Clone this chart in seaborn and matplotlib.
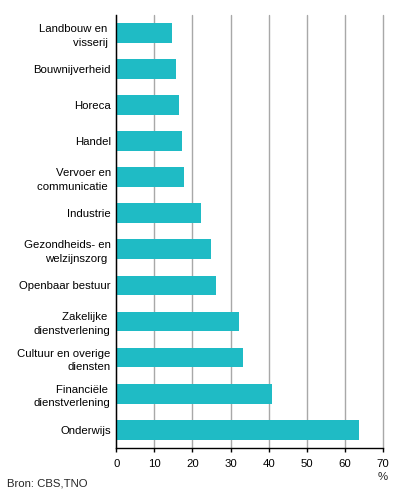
import matplotlib
matplotlib.use("Agg")
import matplotlib.pyplot as plt
import seaborn as sns
import pandas as pd

categories = [
    "Landbouw en \nvisserij ",
    "Bouwnijverheid",
    "Horeca",
    "Handel",
    "Vervoer en\ncommunicatie ",
    "Industrie",
    "Gezondheids- en\nwelzijnszorg ",
    "Openbaar bestuur",
    "Zakelijke \ndienstverlening",
    "Cultuur en overige\ndiensten",
    "Financiële \ndienstverlening",
    "Onderwijs",
]
values = [14.5, 15.8, 16.5, 17.3, 17.8, 22.2, 24.9, 26.2, 32.2, 33.3, 40.8, 63.6]
xticks = [0, 10, 20, 30, 40, 50, 60, 70]

df = pd.DataFrame({"cat": categories, "val": values})

sns.set_theme(style="white")
plt.rcParams["font.family"] = ["Liberation Sans", "DejaVu Sans"]
plt.rcParams["font.size"] = 8.2

fig = plt.figure(figsize=(3.96, 4.96), dpi=100)
ax = fig.add_axes([0.2937, 0.0974, 0.6733, 0.8724])

sns.barplot(data=df, x="val", y="cat", orient="h", color="#1FBBC5",
            saturation=1, width=0.55, ax=ax, linewidth=0, edgecolor="none")

ax.set_xlim(0, 70)
ax.set_ylim(len(categories) - 0.5, -0.5)
ax.set_xticks(xticks)
ax.set_xticklabels([str(t) for t in xticks], fontsize=8.2, color="black")
ax.set_xlabel("")
ax.set_ylabel("")
ax.grid(axis="x", color="#A8A8A8", linewidth=1)
ax.grid(axis="y", visible=False)
ax.set_axisbelow(True)
for gl in ax.get_xgridlines():
    gl.set_clip_on(False)

for lab in ax.get_yticklabels():
    lab.set_horizontalalignment("right")
    lab.set_multialignment("right")
    lab.set_fontsize(8.2)
    lab.set_color("black")
    lab.set_linespacing(1.45)

ax.tick_params(axis="y", length=0, pad=4)
ax.tick_params(axis="x", length=3, width=1, color="black", pad=5, direction="out")
ax.xaxis.set_ticks_position("bottom")

for s in ["top", "right"]:
    ax.spines[s].set_visible(False)
for s in ["left", "bottom"]:
    ax.spines[s].set_color("black")
    ax.spines[s].set_linewidth(1)
    ax.spines[s].set_zorder(5)

fig.text(383 / 396, 1 - 477 / 496, "%", ha="center", va="center", fontsize=8.2)
fig.text(7 / 396, 1 - 483 / 496, "Bron: CBS,TNO", ha="left", va="center", fontsize=8.2)

fig.savefig("out.png", dpi=100)
